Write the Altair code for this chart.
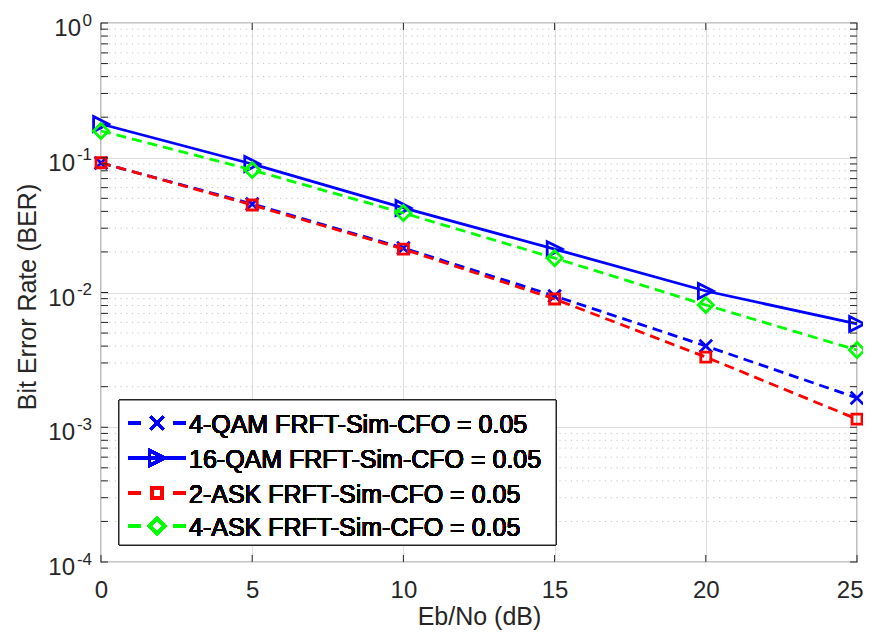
import altair as alt
import pandas as pd

# ---------------- data ----------------
snr = [0, 5, 10, 15, 20, 25]
ber_4qam = [0.0914, 0.0454, 0.0214, 0.00942, 0.00401, 0.00165]
ber_16qam = [0.178, 0.0899, 0.0424, 0.0210, 0.01026, 0.00584]
ber_2ask = [0.0918, 0.0446, 0.0210, 0.00895, 0.00332, 0.00115]
ber_4ask = [0.158, 0.0811, 0.0389, 0.0180, 0.00808, 0.00374]

series_names = [
    "4-QAM FRFT-Sim-CFO = 0.05",
    "16-QAM FRFT-Sim-CFO = 0.05",
    "2-ASK FRFT-Sim-CFO = 0.05",
    "4-ASK FRFT-Sim-CFO = 0.05",
]
series_values = [ber_4qam, ber_16qam, ber_2ask, ber_4ask]

x_ticks = [0, 5, 10, 15, 20, 25]
y_decades = [1e-4, 1e-3, 1e-2, 1e-1, 1e0]
y_exponents = ["-4", "-3", "-2", "-1", "0"]
y_minor = [m * d for d in [1e-4, 1e-3, 1e-2, 1e-1] for m in range(2, 10)]

# ---------------- style ----------------
W, H = 756, 539
FONT = "Liberation Sans"
AX = "#262626"
GRID = "#dedede"
MINOR = "#c4c4c4"
TICK = 7

styles = [
    dict(color="#0000ff", dash=[10, 6], shape="M-1,-1L1,1M-1,1L1,-1", size=160),
    dict(color="#0000ff", dash=None, shape="M1,0L-1,-1L-1,1Z", size=220),
    dict(color="#ff0000", dash=[10, 6], shape="M-1,-1L1,-1L1,1L-1,1Z", size=100),
    dict(color="#00ff00", dash=[10, 6], shape="M0,-1L1,0L0,1L-1,0Z", size=230),
]

xscale = alt.Scale(domain=[0, 25], nice=False, zero=False)
yscale = alt.Scale(type="log", domain=[1e-4, 1], nice=False)

rows = []
for name, vals in zip(series_names, series_values):
    for xv, yv in zip(snr, vals):
        rows.append({"series": name, "snr": xv, "ber": yv})
df = pd.DataFrame(rows)

last_x = "datum.value == %d" % x_ticks[-1]

# base layer with axes and major grid
base = alt.Chart(df).mark_point(opacity=0).encode(
    x=alt.X("snr:Q", scale=xscale, title="Eb/No (dB)", axis=alt.Axis(
        values=x_ticks, title="Eb/No (dB)", grid=True, gridColor=GRID, gridWidth=1,
        ticks=False, domain=False, labelFontSize=24, labelFont=FONT, labelColor=AX,
        labelPadding=16, labelFlush=False,
        labelAlign={"condition": {"test": last_x, "value": "right"}, "value": "center"},
        labelOffset={"condition": {"test": last_x, "value": 6}, "value": 0},
        titleFont=FONT, titleFontSize=25,
        titleFontWeight="normal", titleColor=AX, titleY=62, titleBaseline="alphabetic")),
    y=alt.Y("ber:Q", scale=yscale, title="Bit Error Rate (BER)", axis=alt.Axis(
        values=y_decades, title="Bit Error Rate (BER)", grid=True, gridColor=GRID,
        gridWidth=1, ticks=False, domain=False, labels=False, titleFont=FONT,
        titleFontSize=25, titleFontWeight="normal", titleColor=AX, titleX=-66,
        titleY=H / 2 + 4, titleBaseline="alphabetic", titleAngle=-90)),
)

minor_df = pd.DataFrame({"ber": y_minor})
major_df = pd.DataFrame({"ber": y_decades, "exp": y_exponents})
xt_df = pd.DataFrame({"snr": x_ticks})

Y = lambda: alt.Y("ber:Q", scale=yscale, title="Bit Error Rate (BER)")
X = lambda: alt.X("snr:Q", scale=xscale, title="Eb/No (dB)")

minor_grid = alt.Chart(minor_df).mark_rule(color=MINOR, strokeWidth=1, strokeDash=[1.2, 4.5]).encode(y=Y())

ytick_df = pd.concat([minor_df, major_df[["ber"]]])
ticks_l = alt.Chart(ytick_df).mark_rule(color=AX, strokeWidth=1).encode(
    y=Y(), x=alt.value(0), x2=alt.value(TICK))
ticks_r = alt.Chart(ytick_df).mark_rule(color=AX, strokeWidth=1).encode(
    y=Y(), x=alt.value(W - TICK), x2=alt.value(W))
ticks_b = alt.Chart(xt_df).mark_rule(color=AX, strokeWidth=1).encode(
    x=X(), y=alt.value(H), y2=alt.value(H - TICK))
ticks_t = alt.Chart(xt_df).mark_rule(color=AX, strokeWidth=1).encode(
    x=X(), y=alt.value(0), y2=alt.value(TICK))

lab10_a = alt.Chart(major_df[major_df["exp"] == "0"]).mark_text(
    text="10", align="right", baseline="alphabetic", font=FONT, fontSize=24, color=AX, dy=13
).encode(y=Y(), x=alt.value(-20))
lab10_b = alt.Chart(major_df[major_df["exp"] != "0"]).mark_text(
    text="10", align="right", baseline="alphabetic", font=FONT, fontSize=24, color=AX, dy=13
).encode(y=Y(), x=alt.value(-26))
labexp = alt.Chart(major_df).mark_text(
    align="right", baseline="alphabetic", font=FONT, fontSize=17, color=AX, dy=2.5
).encode(y=Y(), x=alt.value(-9), text="exp:N")

layers = [base, minor_grid]
for name, st in zip(series_names, styles):
    sub = df[df["series"] == name]
    lk = dict(color=st["color"], strokeWidth=2.8)
    if st["dash"]:
        lk["strokeDash"] = st["dash"]
    layers.append(alt.Chart(sub).mark_line(**lk).encode(x=X(), y=Y()))
    layers.append(alt.Chart(sub).mark_point(
        shape=st["shape"], filled=False, size=st["size"], strokeWidth=2.8,
        color=st["color"], opacity=1).encode(x=X(), y=Y()))

layers += [ticks_l, ticks_r, ticks_b, ticks_t, lab10_a, lab10_b, labexp]

# ---------------- legend (drawn manually) ----------------
LX0, LX1, LY0, LY1 = 18, 455, 377, 522
layers.append(alt.Chart(df).mark_rect(fill="white", stroke=AX, strokeWidth=1).encode(
    x=alt.value(LX0), x2=alt.value(LX1), y=alt.value(LY0), y2=alt.value(LY1)))
row_y = [400, 435, 470, 503]
for name, st, ry in zip(series_names, styles, row_y):
    rk = dict(color=st["color"], strokeWidth=2.8)
    if st["dash"]:
        rk["strokeDash"] = [13, 32]
    layers.append(alt.Chart(df).mark_rule(**rk).encode(
        x=alt.value(27), x2=alt.value(85), y=alt.value(ry)))
    layers.append(alt.Chart(df).mark_point(
        shape=st["shape"], filled=False, size=st["size"], strokeWidth=2.8,
        color=st["color"], opacity=1).encode(x=alt.value(56), y=alt.value(ry)))
    layers.append(alt.Chart(df).mark_text(
        text=name, align="left", baseline="middle", font=FONT, fontSize=25, color="black",
        dy=1.5
    ).encode(x=alt.value(88), y=alt.value(ry)))

chart = alt.layer(*layers).properties(
    width=W, height=H,
    autosize=alt.AutoSizeParams(type="none"),
    padding={"left": 93, "top": 15, "right": 6, "bottom": 68},
    background="white",
).configure_view(stroke=AX, strokeWidth=1.2)

chart.save("out.html", embed_options={"renderer": "svg", "actions": False})
